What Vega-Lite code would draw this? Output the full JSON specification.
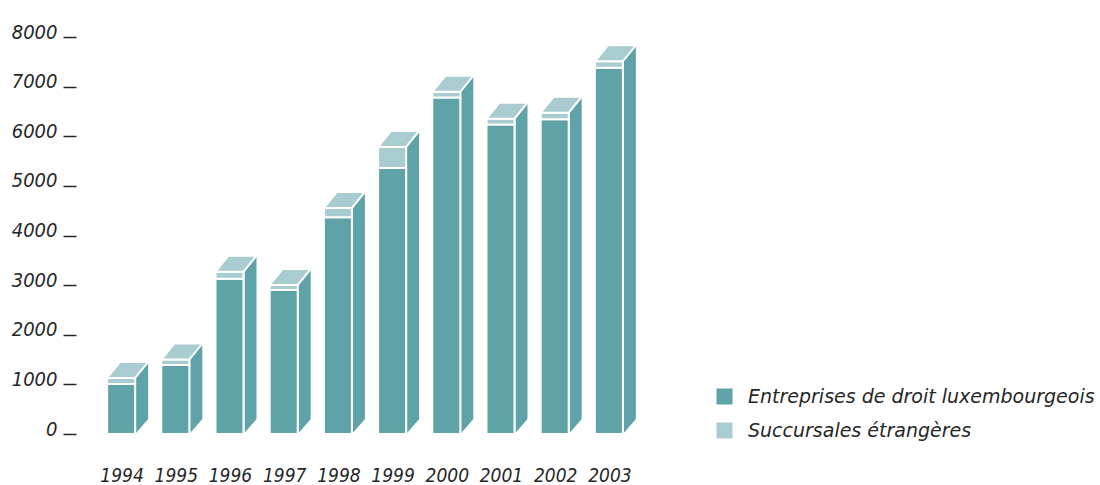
{
  "$schema": "https://vega.github.io/schema/vega-lite/v6.json",
  "width": 542,
  "height": 397,
  "autosize": {"type": "none"},
  "padding": {"left": 94, "top": 37, "right": 464, "bottom": 51},
  "background": "white",
  "config": {"view": {"stroke": null}},
  "data": {
    "values": [
      {"annee": "1994", "type": "Entreprises de droit luxembourgeois", "valeur": 1010},
      {"annee": "1994", "type": "Succursales étrangères", "valeur": 120},
      {"annee": "1995", "type": "Entreprises de droit luxembourgeois", "valeur": 1390},
      {"annee": "1995", "type": "Succursales étrangères", "valeur": 110},
      {"annee": "1996", "type": "Entreprises de droit luxembourgeois", "valeur": 3130},
      {"annee": "1996", "type": "Succursales étrangères", "valeur": 140},
      {"annee": "1997", "type": "Entreprises de droit luxembourgeois", "valeur": 2900},
      {"annee": "1997", "type": "Succursales étrangères", "valeur": 105},
      {"annee": "1998", "type": "Entreprises de droit luxembourgeois", "valeur": 4370},
      {"annee": "1998", "type": "Succursales étrangères", "valeur": 185},
      {"annee": "1999", "type": "Entreprises de droit luxembourgeois", "valeur": 5360},
      {"annee": "1999", "type": "Succursales étrangères", "valeur": 425},
      {"annee": "2000", "type": "Entreprises de droit luxembourgeois", "valeur": 6780},
      {"annee": "2000", "type": "Succursales étrangères", "valeur": 115},
      {"annee": "2001", "type": "Entreprises de droit luxembourgeois", "valeur": 6235},
      {"annee": "2001", "type": "Succursales étrangères", "valeur": 120},
      {"annee": "2002", "type": "Entreprises de droit luxembourgeois", "valeur": 6345},
      {"annee": "2002", "type": "Succursales étrangères", "valeur": 130},
      {"annee": "2003", "type": "Entreprises de droit luxembourgeois", "valeur": 7380},
      {"annee": "2003", "type": "Succursales étrangères", "valeur": 130}
    ]
  },
  "transform": [
    {"joinaggregate": [{"op": "sum", "field": "valeur", "as": "total"}], "groupby": ["annee"]}
  ],
  "encoding": {
    "x": {
      "field": "annee",
      "type": "ordinal",
      "title": null,
      "scale": {"paddingInner": 0, "paddingOuter": 0},
      "axis": {
        "labelAngle": 0,
        "ticks": false,
        "tickSize": 0,
        "domain": false,
        "labelFont": "DejaVu Sans Condensed",
        "labelFontStyle": "italic",
        "labelFontSize": 19,
        "labelColor": "#262626",
        "labelBaseline": "alphabetic",
        "labelPadding": 47,
        "labelOffset": 1
      }
    }
  },
  "layer": [
    {
      "transform": [{"filter": "datum.type === 'Succursales étrangères'"}],
      "mark": {"type": "bar", "width": 14, "xOffset": 21, "yOffset": -16, "fill": "#5fa3a8", "stroke": "white", "strokeWidth": 2},
      "encoding": {
        "y": {"field": "total", "type": "quantitative", "scale": {"domain": [0, 8000], "nice": false}, "title": null,
          "axis": {
            "values": [0, 1000, 2000, 3000, 4000, 5000, 6000, 7000, 8000],
            "format": "d",
            "grid": false,
            "domain": false,
            "offset": 18,
            "tickSize": 13,
            "tickWidth": 1.5,
            "tickColor": "#262626",
            "labelPadding": 6,
            "labelFont": "DejaVu Sans Condensed",
            "labelFontStyle": "italic",
            "labelFontSize": 20,
            "labelColor": "#262626",
            "labelBaseline": "alphabetic",
            "labelOffset": 1
          }
        },
        "y2": {"datum": 0}
      }
    },
    {
      "transform": [{"filter": "datum.type === 'Succursales étrangères'"}],
      "mark": {"type": "point", "shape": "M 14 0 L 28 -16 L 31 -16 L 31 3 L 13 3 Z", "size": 4, "filled": true, "fill": "white", "strokeWidth": 0, "opacity": 1},
      "encoding": {
        "y": {"datum": 0, "type": "quantitative"}
      }
    },
    {
      "mark": {"type": "bar", "width": 28, "stroke": "white", "strokeWidth": 2},
      "encoding": {
        "y": {"field": "valeur", "type": "quantitative", "stack": "zero"},
        "order": {"field": "type", "sort": "ascending"},
        "color": {
          "field": "type",
          "type": "nominal",
          "scale": {"domain": ["Entreprises de droit luxembourgeois", "Succursales étrangères"], "range": ["#5fa3a8", "#a8cccf"]},
          "legend": {
            "title": null,
            "orient": "none",
            "legendX": 621,
            "legendY": 350,
            "symbolType": "square",
            "symbolSize": 256,
            "symbolStrokeWidth": 0,
            "symbolOpacity": 1,
            "labelFont": "DejaVu Sans",
            "labelFontStyle": "italic",
            "labelFontSize": 19,
            "labelColor": "#262626",
            "labelOffset": 14,
            "rowPadding": 14,
            "labelLimit": 500
          }
        }
      }
    },
    {
      "transform": [{"filter": "datum.type === 'Succursales étrangères'"}],
      "mark": {"type": "point", "shape": "M -14 0 L 14 0 L 27 -16 L -1 -16 Z", "size": 4, "filled": true, "fill": "#a8cccf", "stroke": "white", "strokeWidth": 2, "opacity": 1},
      "encoding": {
        "y": {"field": "total", "type": "quantitative"}
      }
    }
  ]
}
